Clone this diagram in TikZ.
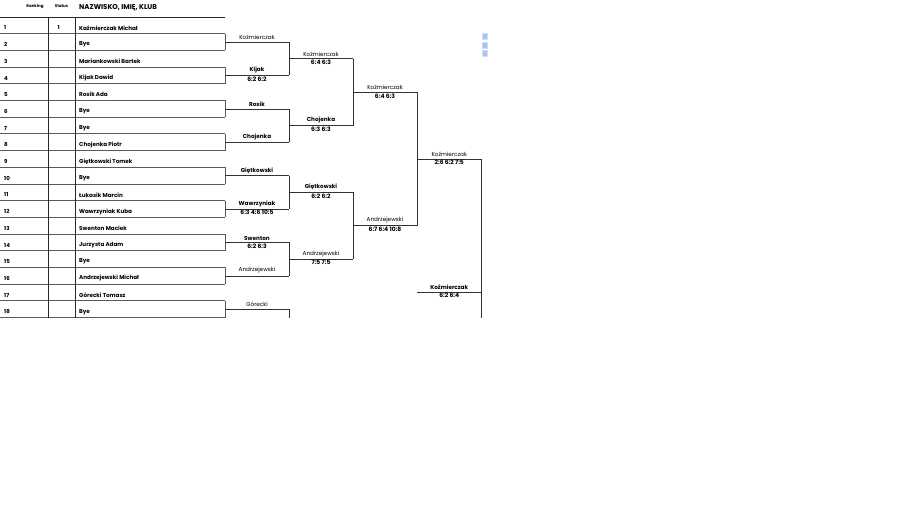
\documentclass[tikz,border=0pt]{standalone}
\usepackage{fontspec}
\setmainfont{Poppins}
\usetikzlibrary{calc}
\definecolor{sqblue}{RGB}{166,196,238}
\definecolor{sqedge}{RGB}{205,222,245}
\tikzset{
  rowline/.style={draw=black!65, line width=0.85pt},
  tabline/.style={draw=black!85, line width=0.7pt},
  brline/.style={draw=black!80, line width=0.65pt},
  rowtxt/.style={anchor=west, inner sep=0pt, font=\fontsize{5.65}{6}\selectfont\bfseries},
  numtxt/.style={anchor=west, inner sep=0pt, font=\fontsize{5.5}{6}\selectfont\bfseries},
  hdrsmall/.style={inner sep=0pt, font=\fontsize{4}{5}\selectfont\bfseries},
  hdrbig/.style={anchor=west, inner sep=0pt, font=\fontsize{7}{8}\selectfont\bfseries},
  winner/.style={anchor=south, inner sep=0pt, yshift=2.2pt, font=\fontsize{5.7}{6}\selectfont},
  winnerb/.style={anchor=south, inner sep=0pt, yshift=2.2pt, font=\fontsize{5.7}{6}\selectfont\bfseries},
  score/.style={anchor=north, inner sep=0pt, yshift=-1.2pt, font=\fontsize{6}{6.5}\selectfont\bfseries},
  sq/.style={draw=sqedge, fill=sqblue, line width=0.4pt, minimum width=5.6pt, minimum height=5.8pt, inner sep=0pt}
}
\begin{document}
\begin{tikzpicture}[x=1pt,y=-1pt]
\useasboundingbox (0,0) rectangle (900,521);
% header
\node[hdrsmall] (hrank) at (35,6) {Ranking};
\node[hdrsmall] (hstat) at (61.5,6) {Status};
\node[hdrbig] (hname) at (79,8.2) {NAZWISKO, IMIĘ, KLUB};
% table lines
\draw[tabline] (0,17) -- (225,17);
\foreach \k in {1,...,18} {
  \draw[rowline] (0,{17+16.7*\k}) -- (225,{17+16.7*\k});
}
\foreach \k in {1,...,9} {
  \draw[rowline] (225,{17+16.7*(2*\k-1)}) -- (225,{17+16.7*2*\k});
}
\draw[tabline] (48.5,17) -- (48.5,317.6);
\draw[tabline] (75,17) -- (75,317.6);
% row texts
\foreach \k/\nm in {1/Kaźmierczak Michał,2/Bye,3/Mariankowski Bartek,4/Kijak Dawid,5/Rosik Ada,6/Bye,7/Bye,8/Chojenka Piotr,9/Giętkowski Tomek,10/Bye,11/Łukasik Marcin,12/Wawrzyniak Kuba,13/Swenton Maciek,14/Jurzysta Adam,15/Bye,16/Andrzejewski Michał,17/Górecki Tomasz,18/Bye} {
  \node[numtxt] (n\k) at (4,{17+16.7*(\k-0.5)+2.6}) {\k};
  \node[rowtxt] (p\k) at (79,{17+16.7*(\k-0.5)+2.6}) {\nm};
}
\node[numtxt] (s1) at (57.5,{17+16.7*0.5+2.6}) {1};
% round 1
\foreach \k/\y in {1/42.05,2/75.45,3/108.85,4/142.25,5/175.65,6/209.05,7/242.45,8/275.85,9/309.25} {
  \coordinate (a\k) at (225,\y);
  \coordinate (b\k) at (289,\y);
}
\coordinate (bend) at (289,318);
\foreach \k in {1,...,9} \draw[brline] (a\k) -- (b\k);
\foreach \i/\j in {1/2,3/4,5/6,7/8} \draw[brline] (b\i) -- (b\j);
\draw[brline] (b9) -- (bend);
% round 2
\foreach \k/\y in {1/58.75,2/125.55,3/192.35,4/259.15} {
  \coordinate (c\k) at (289,\y);
  \coordinate (d\k) at (353,\y);
  \draw[brline] (c\k) -- (d\k);
}
\draw[brline] (d1) -- (d2);
\draw[brline] (d3) -- (d4);
% round 3
\foreach \k/\y in {1/92.15,2/225.75} {
  \coordinate (e\k) at (353,\y);
  \coordinate (f\k) at (417,\y);
  \draw[brline] (e\k) -- (f\k);
}
\draw[brline] (f1) -- (f2);
% round 4
\coordinate (g1) at (417,158.95);
\coordinate (h1) at (481.5,158.95);
\coordinate (hend) at (481.5,318);
\draw[brline] (g1) -- (h1);
\draw[brline] (h1) -- (hend);
\coordinate (g2) at (417,292);
\coordinate (h2) at (481.5,292);
\draw[brline] (g2) -- (h2);
% labels round 1
\node[winner]  (w1)  at ($(a1)!0.5!(b1)$) {Koźmierczak};
\node[winnerb] (w2)  at ($(a2)!0.5!(b2)$) {Kijak};
\node[score]   (x2)  at ($(a2)!0.5!(b2)$) {6:2 6:2};
\node[winnerb] (w3)  at ($(a3)!0.5!(b3)$) {Rosik};
\node[winnerb] (w4)  at ($(a4)!0.5!(b4)$) {Chojenka};
\node[winnerb] (w5)  at ($(a5)!0.5!(b5)$) {Giętkowski};
\node[winnerb] (w6)  at ($(a6)!0.5!(b6)$) {Wawrzyniak};
\node[score]   (x6)  at ($(a6)!0.5!(b6)$) {6:3 4:6 10:5};
\node[winnerb] (w7)  at ($(a7)!0.5!(b7)$) {Swenton};
\node[score]   (x7)  at ($(a7)!0.5!(b7)$) {6:2 6:3};
\node[winner]  (w8)  at ($(a8)!0.5!(b8)$) {Andrzejewski};
\node[winner]  (w9)  at ($(a9)!0.5!(b9)$) {Górecki};
% labels round 2
\node[winner]  (v1) at ($(c1)!0.5!(d1)$) {Koźmierczak};
\node[score]   (y1) at ($(c1)!0.5!(d1)$) {6:4 6:3};
\node[winnerb] (v2) at ($(c2)!0.5!(d2)$) {Chojenka};
\node[score]   (y2) at ($(c2)!0.5!(d2)$) {6:3 6:3};
\node[winnerb] (v3) at ($(c3)!0.5!(d3)$) {Giętkowski};
\node[score]   (y3) at ($(c3)!0.5!(d3)$) {6:2 6:2};
\node[winner]  (v4) at ($(c4)!0.5!(d4)$) {Andrzejewski};
\node[score]   (y4) at ($(c4)!0.5!(d4)$) {7:5 7:5};
% labels round 3
\node[winner] (u1) at ($(e1)!0.5!(f1)$) {Koźmierczak};
\node[score]  (z1) at ($(e1)!0.5!(f1)$) {6:4 6:3};
\node[winner] (u2) at ($(e2)!0.5!(f2)$) {Andrzejewski};
\node[score]  (z2) at ($(e2)!0.5!(f2)$) {6:7 6:4 10:8};
% labels round 4
\node[winner]  (t1) at ($(g1)!0.5!(h1)$) {Koźmierczak};
\node[score]   (q1) at ($(g1)!0.5!(h1)$) {2:6 6:2 7:5};
\node[winnerb] (t2) at ($(g2)!0.5!(h2)$) {Koźmierczak};
\node[score]   (q2) at ($(g2)!0.5!(h2)$) {6:2 6:4};
% blue squares
\node[sq] (sq1) at (484.5,36.2) {};
\node[sq] (sq2) at (484.5,45.1) {};
\node[sq] (sq3) at (484.5,53.2) {};
\end{tikzpicture}
\end{document}
